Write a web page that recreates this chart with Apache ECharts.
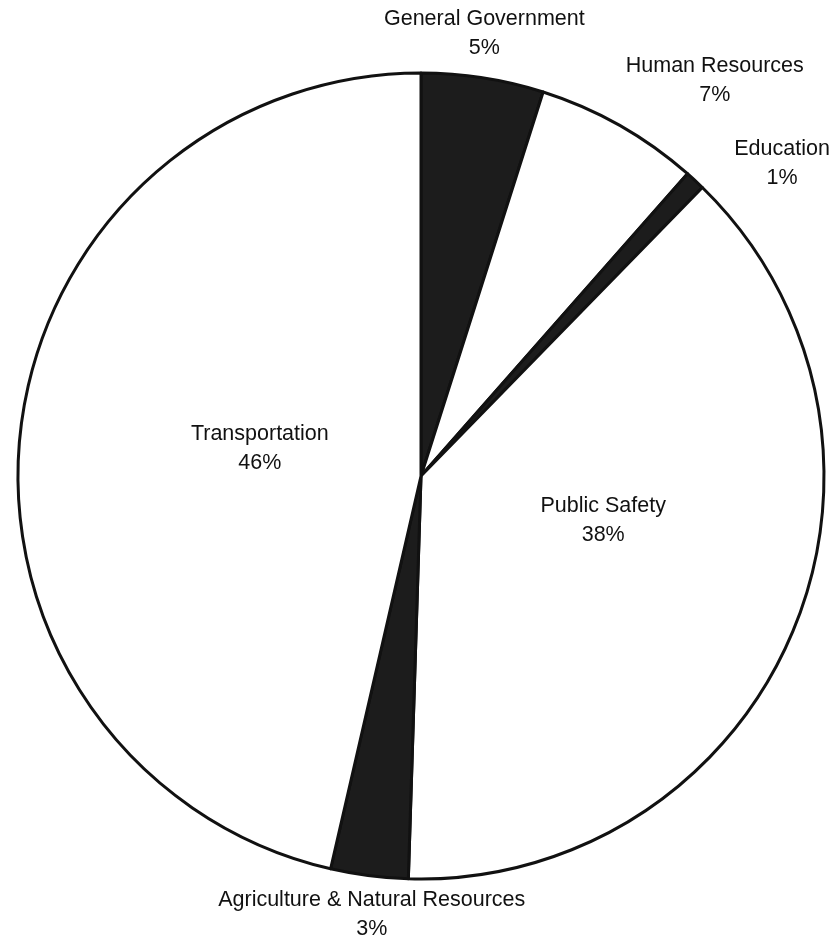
<!DOCTYPE html>
<html>
<head>
<meta charset="utf-8">
<script src="https://cdn.jsdelivr.net/npm/echarts@6/dist/echarts.min.js"></script>
<style>
  html, body { margin: 0; padding: 0; background: #fff; }
  #main { width: 834px; height: 945px; }
</style>
</head>
<body>
<div id="main"></div>
<script>
// slices, clockwise from 12 o'clock
var categories = ['General Government', 'Human Resources', 'Education', 'Public Safety', 'Agriculture & Natural Resources', 'Transportation'];
var shares = [4.9, 6.6, 0.8, 38.2, 3.1, 46.4];
var darkSlices = ['General Government', 'Education', 'Agriculture & Natural Resources'];

// label offsets (px) from the default inside position, per slice
var labelNudge = {
    'General Government': [32, -240],
    'Human Resources': [193, -217],
    'Education': [222, -162],
    'Public Safety': [-6, -35],
    'Agriculture & Natural Resources': [-23, 236],
    'Transportation': [42, -4]
};

var myChart = echarts.init(document.getElementById('main'));

var pieData = categories.map(function (name, i) {
    var dark = darkSlices.indexOf(name) >= 0;
    return {
        name: name,
        value: shares[i],
        itemStyle: { color: dark ? '#1c1c1c' : '#ffffff' }
    };
});

var option = {
    animation: false,
    backgroundColor: '#ffffff',
    series: [
        {
            type: 'pie',
            center: [421, 476],
            radius: [0, 403],
            startAngle: 90,
            clockwise: true,
            percentPrecision: 0,
            avoidLabelOverlap: false,
            data: pieData,
            itemStyle: {
                borderColor: '#111111',
                borderWidth: 3
            },
            label: {
                show: true,
                position: 'inside',
                formatter: '{b}\n{d}%',
                color: '#111111',
                fontFamily: 'Liberation Sans, Arial, sans-serif',
                fontSize: 21.5,
                lineHeight: 29,
                textBorderWidth: 0,
                align: 'center'
            },
            labelLine: { show: false },
            labelLayout: function (params) {
                var n = labelNudge[categories[params.dataIndex]] || [0, 0];
                return { dx: n[0], dy: n[1] };
            },
            emphasis: { disabled: true }
        }
    ]
};
myChart.setOption(option);
</script>
</body>
</html>
